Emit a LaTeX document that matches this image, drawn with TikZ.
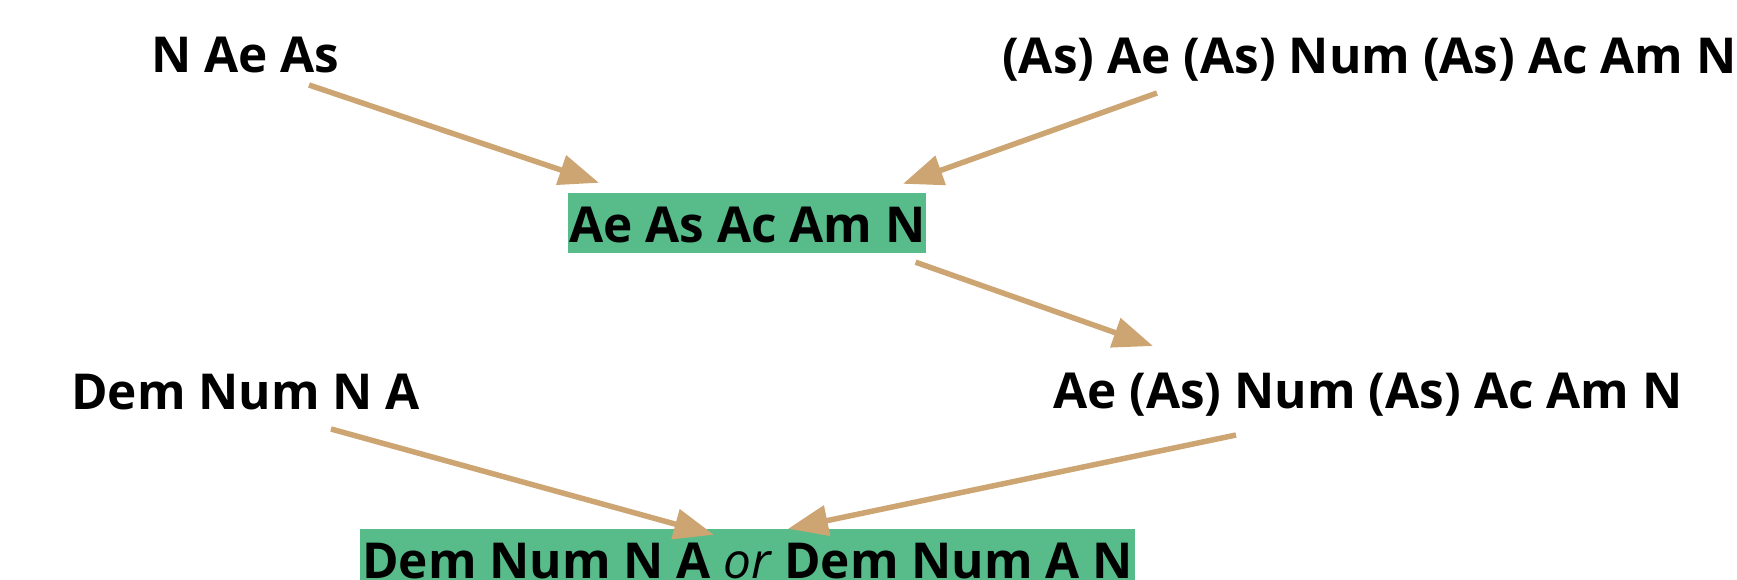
\documentclass[tikz,border=0pt]{standalone}
\usepackage{fontspec}
\setmainfont{Open Sans}
\usetikzlibrary{arrows.meta}
\definecolor{boxgreen}{RGB}{87,187,138}
\definecolor{arrtan}{RGB}{204,165,115}
\tikzset{
  lbl/.style={anchor=base west, inner sep=0pt, font=\fontsize{49.5}{60}\selectfont\bfseries},
  hl/.style={lbl, fill=boxgreen, inner ysep=0pt, inner xsep=1pt, text height=49pt, text depth=11pt},
  arr/.style={draw=arrtan, line width=5.5pt, -{Triangle[length=40pt,width=30pt]}}
}
\begin{document}
\begin{tikzpicture}[x=1pt,y=-1pt]
\useasboundingbox (0,0) rectangle (1737,579);
\node[lbl] (n1) at (151,72) {N Ae As};
\node[lbl] (n2) at (1002,73) {(As) Ae (As) Num (As) Ac Am N};
\node[hl] (b1) at (568,242) {Ae As Ac Am N};
\node[lbl] (n3) at (1053,408) {Ae (As) Num (As) Ac Am N};
\node[lbl] (n4) at (71,409) {Dem Num N A};
\node[hl, inner xsep=2pt] (b2) at (360,578) {Dem Num N A {\mdseries\itshape or} Dem Num A N};
\draw[arr] ([xshift=158pt,yshift=-13pt]n1.base west) -- ([xshift=31pt,yshift=10pt]b1.north west);
\draw[arr] ([xshift=155pt,yshift=-20pt]n2.base west) -- ([xshift=335pt,yshift=9pt]b1.north west);
\draw[arr] ([xshift=-11pt,yshift=-9pt]b1.south east) -- ([xshift=100pt,yshift=62pt]n3.base west);
\draw[arr] ([xshift=260pt,yshift=-20pt]n4.base west) -- ([xshift=354pt,yshift=-6pt]b2.north west);
\draw[arr] ([xshift=183pt,yshift=-27pt]n3.base west) -- ([xshift=428pt,yshift=0pt]b2.north west);
\end{tikzpicture}
\end{document}
